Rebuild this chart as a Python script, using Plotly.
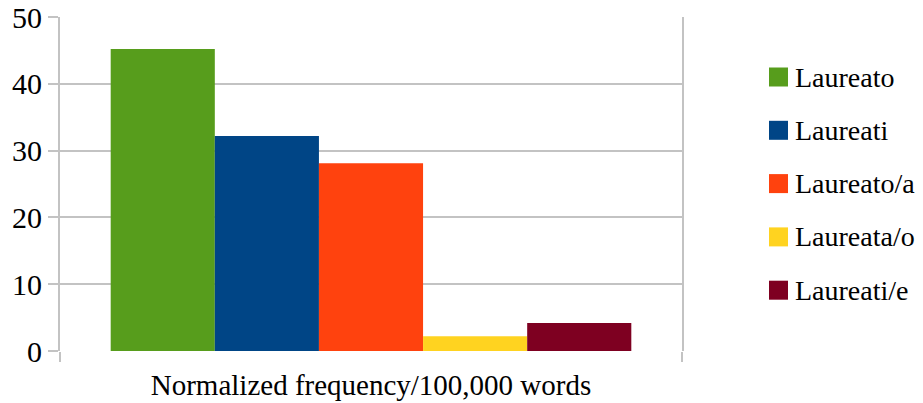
import plotly.graph_objects as go

category = "Normalized frequency/100,000 words"
series_names = ["Laureato", "Laureati", "Laureato/a", "Laureata/o", "Laureati/e"]
series_values = [45.2, 32.2, 28.1, 2.2, 4.2]
series_colors = ["#579d1c", "#004586", "#ff420e", "#ffd320", "#7e0021"]
y_ticks = [0, 10, 20, 30, 40, 50]

FONT = "Liberation Serif"
GRID = "#c3c3c3"

fig = go.Figure()
for name, val, col in zip(series_names, series_values, series_colors):
    fig.add_trace(go.Bar(x=[0], y=[val], name=name, marker=dict(color=col, line=dict(width=0)),
                         showlegend=False))

# hand-drawn legend: coloured squares with labels
shapes = []
annotations = []
for i, (name, col) in enumerate(zip(series_names, series_colors)):
    yc = 77 + i * 53.3
    shapes.append(dict(type="rect", xref="paper", yref="paper",
                       x0=(769 - 60) / 622, x1=(788 - 60) / 622,
                       y0=(351 - (yc + 9.5)) / 334, y1=(351 - (yc - 9.5)) / 334,
                       fillcolor=col, line=dict(width=0)))
    annotations.append(dict(text=name, xref="paper", yref="paper",
                            x=(793 - 60) / 622, y=(351 - yc) / 334,
                            xanchor="left", yanchor="middle", showarrow=False,
                            font=dict(family=FONT, size=28, color="#000000")))

fig.update_layout(
    width=923, height=403,
    margin=dict(l=60, r=241, t=17, b=52, autoexpand=False),
    paper_bgcolor="white", plot_bgcolor="white",
    barmode="group", bargap=0.163, bargroupgap=0,
    font=dict(family=FONT, size=28, color="#000000"),
    shapes=shapes, annotations=annotations,
    xaxis=dict(range=[-0.5, 0.5], tickvals=[0], ticktext=[category], ticks="",
               showgrid=False, zeroline=False, showline=False, automargin=False,
               ticklabelstandoff=14,
               tickfont=dict(family=FONT, size=29),
               minor=dict(tickvals=[-0.5, 0.5], ticks="outside", ticklen=10,
                          tickcolor=GRID, tickwidth=2, showgrid=False)),
    yaxis=dict(range=[0, 50], tickvals=y_ticks, ticks="outside", ticklen=10,
               tickcolor=GRID, tickwidth=2, gridcolor=GRID, gridwidth=2,
               zeroline=False, showline=True, mirror=True, linecolor=GRID,
               linewidth=2, automargin=False, tickfont=dict(family=FONT, size=30)),
)

fig.write_html("out.html")
